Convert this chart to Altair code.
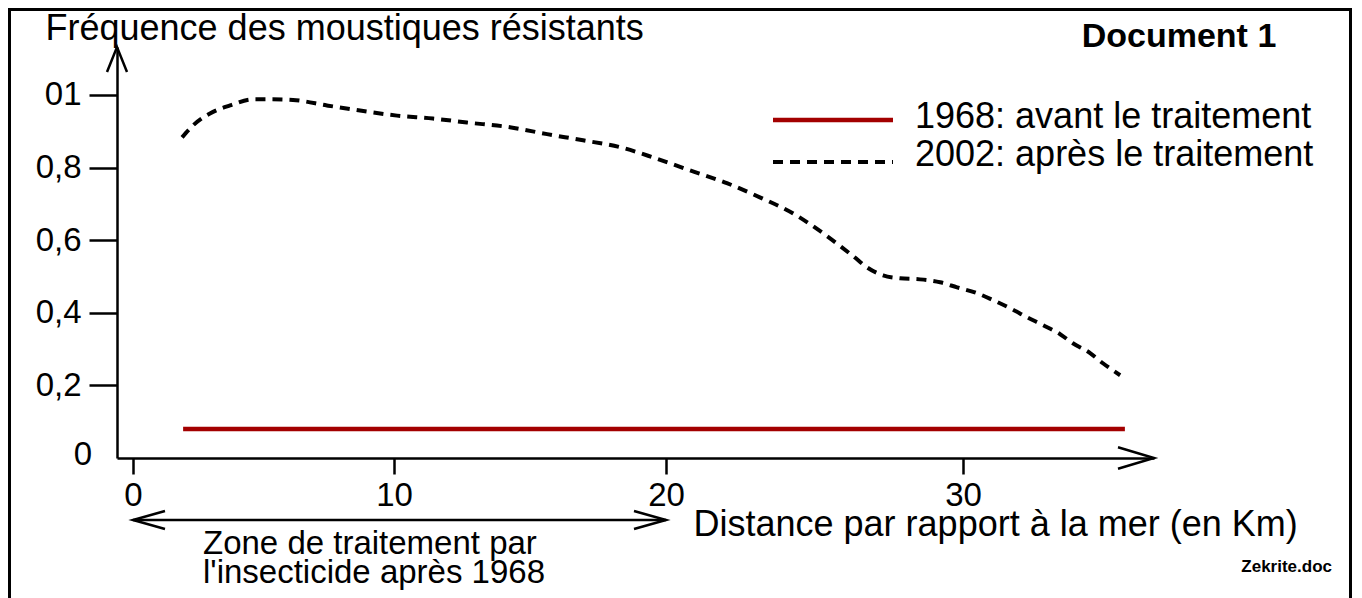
import altair as alt
import pandas as pd

# ---------------- data ----------------
dist_2002 = [1.88, 2.30, 2.95, 3.72, 4.60, 5.13, 6.13, 7.43, 8.70, 10.11, 11.43,
             12.68, 14.26, 15.63, 16.95, 18.31, 19.52, 20.81, 22.05, 23.16, 24.27,
             25.29, 26.30, 26.77, 27.31, 27.88, 28.55, 29.23, 29.80, 30.47, 31.01,
             31.58, 32.15, 32.69, 33.27, 33.70, 34.28, 34.71, 35.29]
freq_2002 = [0.883, 0.916, 0.949, 0.971, 0.988, 0.988, 0.986, 0.971, 0.957, 0.943,
             0.935, 0.924, 0.911, 0.892, 0.875, 0.856, 0.828, 0.792, 0.757, 0.718,
             0.674, 0.619, 0.556, 0.525, 0.503, 0.495, 0.492, 0.484, 0.470, 0.454,
             0.435, 0.413, 0.388, 0.366, 0.341, 0.316, 0.289, 0.261, 0.228]
dist_1968 = [1.92, 35.45]
freq_1968 = [0.08, 0.08]
zone_km = [0, 20]
x_ticks = [0, 10, 20, 30]
y_ticks = [0.2, 0.4, 0.6, 0.8, 1.0]

title_y = "Fréquence des moustiques résistants"
title_x = "Distance par rapport à la mer (en Km)"
legend_labels = ["1968: avant le traitement", "2002: après le traitement"]
zone_text = ["Zone de traitement par", "l'insecticide après 1968"]
doc_title = "Document 1"
credit = "Zekrite.doc"

# ---------------- styling ----------------
W, H = 1037, 411
FONT = "Liberation Sans"
RED = "#a30000"
BIG = 36
LAB = 33

xscale = alt.Scale(domain=[-0.613, 0, 10, 20, 30, 36.43],
                   range=[0, 16, 277, 549, 846, 1037], nice=False, zero=False)
yscale = alt.Scale(domain=[0, 1.132], nice=False, zero=False)

x_axis = alt.Axis(values=x_ticks, format="d", title=title_x,
                  titleX=576, titleY=66, titleAlign="left", titleBaseline="middle",
                  titleFont=FONT, titleFontSize=BIG, titleFontWeight="normal",
                  titleColor="black", labelFont=FONT, labelFontSize=LAB,
                  labelColor="black", labelPadding=5, labelFlush=False,
                  labelOverlap=False, tickSize=16, tickWidth=2.5, tickColor="black",
                  domainColor="black", domainWidth=2.5, grid=False)
y_axis = alt.Axis(values=y_ticks, title=title_y, titleAngle=0,
                  titleX=-72, titleY=-8, titleAlign="left", titleBaseline="alphabetic",
                  titleFont=FONT, titleFontSize=BIG, titleFontWeight="normal",
                  titleColor="black", labelFont=FONT, labelFontSize=LAB,
                  labelColor="black", labelPadding=8, labelFlush=False,
                  labelOverlap=False,
                  labelExpr="datum.value > 0.99 ? '01' : replace(format(datum.value, '.1f'), '.', ',')",
                  tickSize=28, tickWidth=2.5, tickColor="black",
                  domainColor="black", domainWidth=2.5, grid=False)

enc_x = alt.X("d:Q", scale=xscale, axis=x_axis)
enc_y = alt.Y("f:Q", scale=yscale, axis=y_axis)

df02 = pd.DataFrame({"d": dist_2002, "f": freq_2002})
df68 = pd.DataFrame({"d": dist_1968, "f": freq_1968})
dfz = pd.DataFrame({"d": zone_km})
one = alt.Data(values=[{"k": 1}])

line02 = alt.Chart(df02).mark_line(color="black", strokeWidth=4, strokeDash=[10, 7],
                                   interpolate="monotone").encode(x=enc_x, y=enc_y)
line68 = alt.Chart(df68).mark_line(color=RED, strokeWidth=4.5).encode(x=enc_x, y=enc_y)

# frame around the document
frame = alt.Chart(one).mark_rect(fillOpacity=0, stroke="black", strokeWidth=3).encode(
    x=alt.value(-107.5), x2=alt.value(1233.5), y=alt.value(-37.5), y2=alt.value(620))

# axis arrow heads
y_arrow = alt.Chart(one).mark_point(shape="M -1 -0.4 L 0 0 L -1 0.4", size=2500,
                                    filled=False, stroke="black", strokeWidth=2.5,
                                    opacity=1, angle=270).encode(
    x=alt.value(0), y=alt.value(0))
x_arrow = alt.Chart(one).mark_point(shape="M -1 -0.3 L 0 0 L -1 0.3", size=5184,
                                    filled=False, stroke="black", strokeWidth=2.5,
                                    opacity=1).encode(
    x=alt.value(W), y=alt.value(H))

zero_label = alt.Chart(one).mark_text(text="0", font=FONT, fontSize=LAB, align="right",
                                      baseline="middle", dy=-3, color="black").encode(
    x=alt.value(-25), y=alt.Y(datum=0, type="quantitative", scale=yscale))

# treatment zone double arrow
zone_line = alt.Chart(dfz).mark_line(color="black", strokeWidth=2.5).encode(
    x=enc_x, y=alt.value(473))
zone_heads = alt.Chart(dfz).transform_calculate(
    ang="datum.d == 0 ? 180 : 0").mark_point(
    shape="M -1 -0.28 L 0 0 L -1 0.28", size=4096, filled=False, stroke="black",
    strokeWidth=2.5, opacity=1).encode(
    x=enc_x, y=alt.value(473), angle=alt.Angle("ang:Q", scale=None))
zone_lbl = alt.Chart(one).mark_text(text=zone_text, font=FONT, fontSize=33,
                                    lineHeight=29, align="left", baseline="alphabetic",
                                    color="black").encode(
    x=alt.value(86), y=alt.value(507))

# legend
leg_red = alt.Chart(one).mark_rule(color=RED, strokeWidth=4.5).encode(
    x=alt.value(656), x2=alt.value(776), y=alt.value(73))
leg_dash = alt.Chart(one).mark_rule(color="black", strokeWidth=4, strokeDash=[10, 7]).encode(
    x=alt.value(656), x2=alt.value(776), y=alt.value(115))
leg_t1 = alt.Chart(one).mark_text(text=legend_labels[0], font=FONT, fontSize=BIG,
                                  align="left", baseline="middle", color="black").encode(
    x=alt.value(798), y=alt.value(70))
leg_t2 = alt.Chart(one).mark_text(text=legend_labels[1], font=FONT, fontSize=BIG,
                                  align="left", baseline="middle", color="black").encode(
    x=alt.value(798), y=alt.value(108))

doc = alt.Chart(one).mark_text(text=doc_title, font=FONT, fontSize=34, fontWeight="bold",
                               align="center", baseline="middle", color="black").encode(
    x=alt.value(1062), y=alt.value(-10))
cred = alt.Chart(one).mark_text(text=credit, font=FONT, fontSize=17, fontWeight="bold",
                                align="right", baseline="middle", color="black").encode(
    x=alt.value(1215), y=alt.value(520))

chart = alt.layer(
    line68, line02, frame, y_arrow, x_arrow, zero_label,
    zone_line, zone_heads, zone_lbl, leg_red, leg_dash, leg_t1, leg_t2, doc, cred
).properties(
    width=W, height=H,
    autosize=alt.AutoSizeParams(type="none"),
    padding={"left": 109, "top": 39, "right": 200, "bottom": 140},
    background="white",
).configure_view(stroke=None)

chart.save("out.html", embed_options={"renderer": "svg", "actions": False})
